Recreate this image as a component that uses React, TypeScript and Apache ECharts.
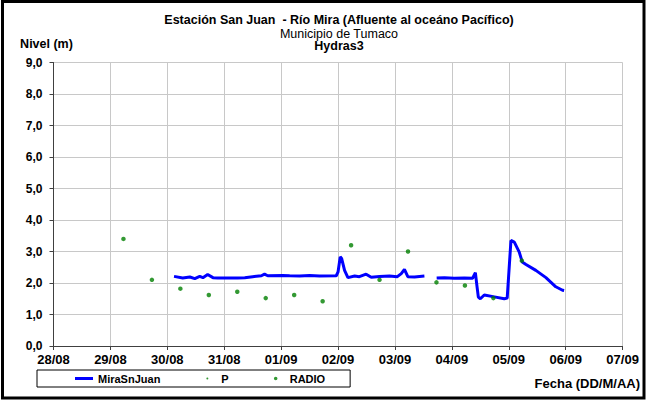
import React, { useEffect, useRef } from "react";
import * as echarts from "echarts";

const xTickLabels = ["28/08", "29/08", "30/08", "31/08", "01/09", "02/09", "03/09", "04/09", "05/09", "06/09", "07/09"];

// MiraSnJuan level (m); null marks the data gap
const levelTimes = [
  "30/08 02:50", "30/08 06:30", "30/08 09:30", "30/08 11:35", "30/08 13:40", "30/08 15:00",
  "30/08 17:00", "30/08 19:15", "30/08 21:15", "31/08 05:40", "31/08 08:40", "31/08 12:00",
  "31/08 15:40", "31/08 17:00", "31/08 18:20", "01/09 00:40", "01/09 03:35", "01/09 07:50",
  "01/09 12:00", "01/09 16:10", "01/09 23:15", "02/09 00:00", "02/09 00:55", "02/09 01:30",
  "02/09 02:45", "02/09 04:10", "02/09 07:00", "02/09 09:00", "02/09 11:50", "02/09 14:00",
  "02/09 17:30", "02/09 21:40", "03/09 01:00", "03/09 02:40", "03/09 04:00", "03/09 05:25",
  "03/09 08:15", "03/09 12:25", "03/09 15:00", "03/09 17:35", "03/09 20:50", "04/09 01:00",
  "04/09 05:15", "04/09 08:45", "04/09 09:55", "04/09 10:35", "04/09 11:10", "04/09 12:00",
  "04/09 13:40", "04/09 17:55", "04/09 22:05", "04/09 23:20", "05/09 00:55", "05/09 02:20",
  "05/09 04:25", "05/09 05:40", "05/09 07:15", "05/09 11:25", "05/09 15:40", "05/09 19:50",
  "05/09 22:40", "05/09 23:20",
];
const levelValues: (number | null)[] = [
  2.21, 2.16, 2.19, 2.14, 2.21, 2.17,
  2.27, 2.17, 2.16, 2.16, 2.17, 2.2,
  2.23, 2.28, 2.23, 2.24, 2.23, 2.22,
  2.24, 2.22, 2.23, 2.35, 2.83, 2.78,
  2.4, 2.17, 2.22, 2.2, 2.28, 2.18,
  2.21, 2.22, 2.2, 2.3, 2.43, 2.2,
  2.19, 2.22, null, 2.16, 2.17, 2.15,
  2.16, 2.15, 2.33, 1.9, 1.55, 1.5,
  1.62, 1.56, 1.5, 1.52, 3.35, 3.3,
  2.98, 2.67, 2.59, 2.4, 2.17, 1.88,
  1.77, 1.76,
];

// RADIO readings (m)
const radioTimes = [
  "29/08 05:30", "29/08 17:30", "30/08 05:30", "30/08 17:30", "31/08 05:30", "31/08 17:30",
  "01/09 05:30", "01/09 17:30", "02/09 05:30", "02/09 17:30", "03/09 05:30", "03/09 17:30",
  "04/09 05:30", "04/09 17:30", "05/09 05:30",
];
const radioValues = [3.4, 2.1, 1.82, 1.62, 1.72, 1.52, 1.62, 1.42, 3.2, 2.1, 3.0, 2.02, 1.92, 1.52, 2.71];

// P readings (none visible)
const pTimes: string[] = [];
const pValues: number[] = [];

const titleLines = ["Estación San Juan  - Río Mira (Afluente al oceáno Pacífico)", "Municipio de Tumaco", "Hydras3"];

// days since 28/08 00:00
function dayOffset(t: string): number {
  const [date, time] = t.split(" ");
  const [d, m] = date.split("/").map(Number);
  const [hh, mm] = time.split(":").map(Number);
  const base = m === 8 ? d - 28 : d + 3;
  return base + hh / 24 + mm / 1440;
}

const FONT = "Liberation Sans, Arial, sans-serif";

export default function App() {
  const ref = useRef<HTMLDivElement>(null);
  useEffect(() => {
    if (!ref.current) return;
    const chart = echarts.init(ref.current, undefined, { renderer: "svg" });
    const levelData = levelTimes.map((t, i) => [dayOffset(t), levelValues[i]]);
    const radioData = radioTimes.map((t, i) => [dayOffset(t), radioValues[i]]);
    const pData = pTimes.map((t, i) => [dayOffset(t), pValues[i]]);
    const titleTops = [14, 27.5, 40];
    chart.setOption({
      animation: false,
      backgroundColor: "#ffffff",
      textStyle: { fontFamily: FONT },
      title: [
        ...titleLines.map((txt, i) => ({
          left: 339,
          top: titleTops[i],
          textAlign: "center",
          padding: 0,
          text: txt,
          textStyle: {
            fontFamily: FONT,
            fontSize: 12.5,
            fontWeight: i === 1 ? "normal" : "bold",
            color: "#000",
            lineHeight: 12,
          },
        })),
        {
          right: 7,
          top: 377,
          padding: 0,
          text: "Fecha (DD/M/AA)",
          textStyle: { fontFamily: FONT, fontSize: 13, fontWeight: "bold", color: "#000" },
        },
      ],
      grid: { left: 53.5, right: 24.4, top: 62.5, bottom: 57, containLabel: false },
      xAxis: {
        type: "value",
        min: 0,
        max: 10,
        interval: 1,
        axisLine: { show: true, lineStyle: { color: "#404040", width: 1 } },
        axisTick: { show: true, inside: false, length: 4, lineStyle: { color: "#404040" } },
        axisLabel: {
          margin: 7,
          fontFamily: FONT, fontSize: 13, fontWeight: "bold", color: "#000",
          formatter: (v: number) => xTickLabels[Math.round(v)] ?? "",
        },
        splitLine: { show: true, lineStyle: { color: "#c8c8c8", width: 1 } },
      },
      yAxis: {
        type: "value",
        min: 0,
        max: 9,
        interval: 1,
        name: "Nivel (m)",
        nameLocation: "end",
        nameGap: 12,
        nameTextStyle: {
          fontFamily: FONT, fontSize: 12.5, fontWeight: "bold", color: "#000",
          align: "center", padding: [0, 14, 0, 0],
        },
        axisLine: { show: true, lineStyle: { color: "#404040", width: 1 } },
        axisTick: { show: true, inside: false, length: 4, lineStyle: { color: "#404040" } },
        axisLabel: {
          margin: 11,
          fontFamily: FONT, fontSize: 12, fontWeight: "bold", color: "#000",
          formatter: (v: number) => v.toFixed(1).replace(".", ","),
        },
        splitLine: { show: true, lineStyle: { color: "#c8c8c8", width: 1 } },
      },
      legend: {
        left: 37,
        top: 370,
        orient: "horizontal",
        selectedMode: false,
        borderColor: "#000",
        borderWidth: 1,
        padding: [3, 25, 3, 38],
        itemGap: 38,
        itemWidth: 18,
        itemHeight: 6,
        textStyle: { fontFamily: FONT, fontSize: 11, fontWeight: "bold", color: "#000" },
        data: [
          { name: "MiraSnJuan", icon: "path://M0 0h0.01M17.99 6h0.01M0 1.5h18v3h-18z" },
          { name: "P", icon: "path://M0 0h0.01M17.99 6h0.01M10 3a1 1 0 1 1 -2 0a1 1 0 1 1 2 0z" },
          { name: "RADIO", icon: "path://M0 0h0.01M17.99 6h0.01M10.8 3a1.8 1.8 0 1 1 -3.6 0a1.8 1.8 0 1 1 3.6 0z" },
        ],
      },
      series: [
        {
          name: "MiraSnJuan",
          type: "line",
          data: levelData,
          showSymbol: false,
          symbol: "none",
          connectNulls: false,
          lineStyle: { color: "#0000ff", width: 3 },
          itemStyle: { color: "#0000ff" },
          z: 3,
        },
        {
          name: "P",
          type: "scatter",
          data: pData,
          symbolSize: 2,
          itemStyle: { color: "#008000" },
        },
        {
          name: "RADIO",
          type: "scatter",
          data: radioData,
          symbolSize: 4.5,
          itemStyle: { color: "#008000" },
          z: 4,
        },
      ],
      graphic: [
        {
          type: "rect",
          shape: { x: 2.5, y: 1.5, width: 641.5, height: 396.5 },
          style: { fill: "none", stroke: "#000", lineWidth: 3 },
          silent: true,
        },
      ],
    });
    return () => chart.dispose();
  }, []);
  return (
    <div
      ref={ref}
      style={{ position: "fixed", left: 0, top: 0, width: 647, height: 403, background: "#fff" }}
    />
  );
}
